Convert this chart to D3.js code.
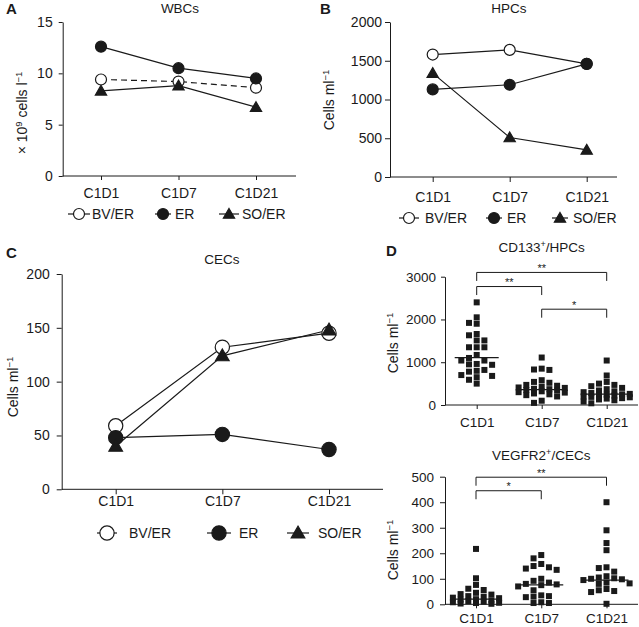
<!DOCTYPE html>
<html><head><meta charset="utf-8">
<script src="https://cdn.jsdelivr.net/npm/d3@7"></script>
<style>
body{margin:0;background:#fff}
svg text{font-family:"Liberation Sans",Arial,Helvetica,sans-serif;fill:#1a1a1a}
</style>
</head><body>
<svg id="chart" width="639" height="627"></svg>
<script>
// ---------- data ----------
const categories = ["C1D1", "C1D7", "C1D21"];
const seriesNames = ["BV/ER", "ER", "SO/ER"];

const wbcBVER = [9.4, 9.2, 8.6];
const wbcER = [12.6, 10.5, 9.5];
const wbcSOER = [8.3, 8.8, 6.7];
const wbcTicks = [0, 5, 10, 15];

const hpcBVER = [1580, 1640, 1460];
const hpcER = [1130, 1190, 1460];
const hpcSOER = [1340, 510, 350];
const hpcTicks = [0, 500, 1000, 1500, 2000];

const cecBVER = [59, 132, 145];
const cecER = [48, 51, 37];
const cecSOER = [40, 124, 148];
const cecTicks = [0, 50, 100, 150, 200];

const cd133C1D1 = [2400, 2050, 1920, 1900, 1660, 1630, 1510, 1510, 1350, 1350, 1350, 1170, 1100, 1040, 1040, 960, 950, 940, 820, 800, 780, 700, 680, 650, 590, 500];
const cd133C1D7 = [1110, 850, 830, 820, 580, 540, 520, 470, 450, 430, 410, 400, 380, 370, 350, 340, 320, 300, 290, 270, 250, 230, 200, 100, 50];
const cd133C1D21 = [1040, 690, 540, 500, 470, 440, 400, 370, 340, 320, 300, 280, 260, 250, 240, 230, 220, 200, 190, 180, 160, 150, 130, 110, 80, 40];
const cd133Medians = [1110, 360, 255];
const cd133Ticks = [0, 1000, 2000, 3000];
const cd133Brackets = [[0, 2, "**", 3100], [0, 1, "**", 2770], [1, 2, "*", 2240]];

const vegfrC1D1 = [217, 102, 76, 61, 56, 45, 40, 38, 32, 30, 26, 24, 20, 18, 15, 12, 10, 8, 6, 5, 3, 2];
const vegfrC1D7 = [193, 180, 158, 150, 145, 140, 135, 100, 92, 85, 80, 78, 75, 70, 55, 35, 32, 30, 28, 8, 5, 5];
const vegfrC1D21 = [400, 290, 240, 212, 145, 142, 128, 110, 105, 102, 100, 98, 95, 85, 82, 80, 60, 55, 52, 48, 2];
const vegfrMedians = [20, 76, 95];
const vegfrTicks = [0, 100, 200, 300, 400, 500];
const vegfrBrackets = [[0, 2, "**", 498], [0, 1, "*", 445]];

// ---------- drawing ----------
const svg = d3.select("#chart");
const INK = "#1a1a1a";
const fmt = d3.format("d");

function yLabel(g, x, y, parts, fs) {
  const t = g.append("text").attr("transform", `translate(${x},${y}) rotate(-90)`)
    .attr("text-anchor", "middle").style("font-size", fs + "px");
  let shifted = 0;
  parts.forEach(p => {
    const ts = t.append("tspan").text(p[0]);
    if (p[1]) { ts.attr("dy", -5 - shifted).style("font-size", (fs * 0.68) + "px"); shifted = -5; }
    else if (shifted) { ts.attr("dy", 5); shifted = 0; }
  });
}

function symbolPath(type, size) {
  return d3.symbol().type(type === "tri" ? d3.symbolTriangle : d3.symbolCircle).size(size)();
}

function linePanel(p) {
  const g = svg.append("g");
  const x = d3.scalePoint().domain(categories).range([p.cat0, p.cat1]);
  const y = d3.scaleLinear().domain([0, p.yMax]).range([p.y0, p.yTop]);

  const ya = g.append("g").attr("transform", `translate(${p.x0},0)`)
    .call(d3.axisLeft(y).tickValues(p.ticks).tickFormat(fmt).tickSize(p.tick).tickSizeOuter(0).tickPadding(p.ypad));
  const xa = g.append("g").attr("transform", `translate(0,${p.y0})`)
    .call(d3.axisBottom(x).tickSize(p.tick).tickPadding(p.xpad));
  xa.select(".domain").remove();
  g.append("line").attr("x1", p.x0).attr("x2", p.x1).attr("y1", p.y0).attr("y2", p.y0)
    .attr("stroke", INK).attr("stroke-width", 1);
  [ya, xa].forEach(a => {
    a.selectAll("text").style("font-size", p.fs + "px").attr("fill", INK);
    a.selectAll("line,path").attr("stroke", INK);
  });

  const line = d3.line().x((d, i) => x(categories[i])).y(d => y(d));
  p.series.forEach(s => {
    g.append("path").attr("d", line(s.values)).attr("fill", "none")
      .attr("stroke", INK).attr("stroke-width", 1.2)
      .attr("stroke-dasharray", s.dash ? "6,4" : null);
  });
  p.series.forEach(s => {
    s.values.forEach((v, i) => {
      g.append("path").attr("d", symbolPath(s.sym, s.sym === "tri" ? p.triSize : p.circSize))
        .attr("transform", `translate(${x(categories[i])},${y(v) + (s.sym === "tri" ? 1 : 0)})`)
        .attr("fill", s.fill).attr("stroke", INK).attr("stroke-width", 1.2);
    });
  });

  g.append("text").attr("x", p.titleX).attr("y", p.titleY).attr("text-anchor", "middle")
    .style("font-size", "13.5px").text(p.title);
  g.append("text").attr("x", p.letterX).attr("y", p.letterY).style("font-size", "15px")
    .style("font-weight", "bold").text(p.letter);
  yLabel(g, p.ylx, p.yly, p.ylabel, 14);

  p.series.forEach((s, i) => {
    const lx = p.legX[i], ly = p.legY, h = p.legHalf[i];
    g.append("line").attr("x1", lx - h).attr("x2", lx + h).attr("y1", ly).attr("y2", ly)
      .attr("stroke", INK).attr("stroke-width", 1.2);
    g.append("path").attr("d", symbolPath(s.sym, s.sym === "tri" ? p.triSize : p.circSize))
      .attr("transform", `translate(${lx},${ly + (s.sym === "tri" ? 1 : 0)})`)
      .attr("fill", s.fill).attr("stroke", INK).attr("stroke-width", 1.2);
    g.append("text").attr("x", p.legTextX[i]).attr("y", ly + 5).style("font-size", "14px").text(seriesNames[i]);
  });
}

linePanel({
  title: "WBCs", titleX: 180, titleY: 13, letter: "A", letterX: 6, letterY: 14,
  x0: 62.7, x1: 296, cat0: 101, cat1: 256, y0: 176, yTop: 22, yMax: 15, ticks: wbcTicks,
  tick: 4, ypad: 6, xpad: 8, fs: 14,
  ylx: 27, yly: 113, ylabel: [["× 10"], ["9", true], [" cells l"], ["−1", true]],
  circSize: 95, triSize: 55,
  series: [
    { values: wbcBVER, fill: "#fff", sym: "circle", dash: true },
    { values: wbcER, fill: INK, sym: "circle" },
    { values: wbcSOER, fill: INK, sym: "tri" }
  ],
  legY: 214, legX: [79, 163, 229], legTextX: [92, 175, 242], legHalf: [11, 8, 10]
});

linePanel({
  title: "HPCs", titleX: 509, titleY: 13, letter: "B", letterX: 320, letterY: 14,
  x0: 390, x1: 617, cat0: 432.7, cat1: 586.7, y0: 177, yTop: 22, yMax: 2000, ticks: hpcTicks,
  tick: 5, ypad: 3, xpad: 10, fs: 14,
  ylx: 334, yly: 100, ylabel: [["Cells ml"], ["−1", true]],
  circSize: 95, triSize: 55,
  series: [
    { values: hpcBVER, fill: "#fff", sym: "circle" },
    { values: hpcER, fill: INK, sym: "circle" },
    { values: hpcSOER, fill: INK, sym: "tri" }
  ],
  legY: 218, legX: [409, 494, 560], legTextX: [425, 507, 573], legHalf: [10, 8, 8]
});

linePanel({
  title: "CECs", titleX: 222, titleY: 264, letter: "C", letterX: 6, letterY: 258,
  x0: 61.7, x1: 383, cat0: 115.7, cat1: 329, y0: 489.3, yTop: 274, yMax: 200, ticks: cecTicks,
  tick: 5, ypad: 7, xpad: 2, fs: 14,
  ylx: 18, yly: 387, ylabel: [["Cells  ml"], ["−1", true]],
  circSize: 160, triSize: 80,
  series: [
    { values: cecBVER, fill: "#fff", sym: "circle" },
    { values: cecER, fill: INK, sym: "circle" },
    { values: cecSOER, fill: INK, sym: "tri" }
  ],
  legY: 533, legX: [107, 219, 298], legTextX: [129, 239, 318], legHalf: [10, 12, 11]
});

// ---------- scatter panels (D) ----------
function scatterPanel(p) {
  const g = svg.append("g");
  const x = d3.scalePoint().domain(categories).range([p.cat0, p.cat1]);
  const y = d3.scaleLinear().domain([0, p.yMax]).range([p.y0, p.yTop]);
  const ya = g.append("g").attr("transform", `translate(${p.x0},0)`)
    .call(d3.axisLeft(y).tickValues(p.ticks).tickFormat(fmt).tickSize(p.tick).tickSizeOuter(0).tickPadding(p.ypad));
  const xa = g.append("g").attr("transform", `translate(0,${p.y0})`)
    .call(d3.axisBottom(x).tickSize(4).tickPadding(p.xpad));
  xa.select(".domain").remove();
  g.append("line").attr("x1", p.x0).attr("x2", p.x1).attr("y1", p.y0).attr("y2", p.y0)
    .attr("stroke", INK).attr("stroke-width", 1);
  [ya, xa].forEach(a => {
    a.selectAll("text").style("font-size", "13.5px").attr("fill", INK);
    a.selectAll("line,path").attr("stroke", INK);
  });

  const sq = 6, step = 7.7, thr = 6.3;
  const order = [0, -1, 1, -2, 2, -3, 3];
  p.groups.forEach((vals, gi) => {
    const cx = x(categories[gi]);
    const placed = [];
    const sorted = vals.slice().sort((a, b) => b - a);
    sorted.forEach(v => {
      const py = y(v);
      let chosen = null, best = null, bestD = -1;
      for (const off of order) {
        const ds = placed.filter(q => q.off === off).map(q => Math.abs(q.py - py));
        const minD = ds.length ? d3.min(ds) : Infinity;
        if (minD >= thr) { chosen = off; break; }
        if (minD > bestD) { bestD = minD; best = off; }
      }
      placed.push({ off: chosen !== null ? chosen : best, py });
    });
    placed.forEach(q => {
      g.append("rect").attr("x", cx + q.off * step - sq / 2).attr("y", q.py - sq / 2)
        .attr("width", sq).attr("height", sq).attr("fill", INK);
    });
    g.append("line").attr("x1", cx - 22).attr("x2", cx + 22)
      .attr("y1", y(p.medians[gi])).attr("y2", y(p.medians[gi]))
      .attr("stroke", INK).attr("stroke-width", 1.2);
  });

  p.brackets.forEach(b => {
    const x1 = x(categories[b[0]]), x2 = x(categories[b[1]]), by = y(b[3]);
    g.append("path").attr("d", `M${x1},${by + 8.5}V${by}H${x2}V${by + 8.5}`)
      .attr("fill", "none").attr("stroke", INK).attr("stroke-width", 1);
    g.append("text").attr("x", (x1 + x2) / 2).attr("y", by - 0.5).attr("text-anchor", "middle")
      .style("font-size", "11px").text(b[2]);
  });

  const tt = g.append("text").attr("x", (p.cat0 + p.cat1) / 2).attr("y", p.titleY)
    .attr("text-anchor", "middle").style("font-size", "13.5px");
  p.title.forEach(t => {
    const ts = tt.append("tspan").text(t[0]);
    if (t[1]) ts.attr("dy", -5).style("font-size", "9px");
    else if (t[2]) ts.attr("dy", 5);
  });
  if (p.letter) g.append("text").attr("x", p.letterX).attr("y", p.letterY).style("font-size", "15px")
    .style("font-weight", "bold").text(p.letter);
  yLabel(g, p.ylx, p.yly, [["Cells ml"], ["−1", true]], 14);
}

scatterPanel({
  title: [["CD133"], ["+", true], ["/HPCs", false, true]], titleY: 252, letter: "D", letterX: 386, letterY: 256,
  x0: 445, x1: 638, cat0: 476.7, cat1: 606.7, y0: 405, yTop: 276.7, yMax: 3000, ticks: cd133Ticks,
  tick: 4, ypad: 5, xpad: 8,
  groups: [cd133C1D1, cd133C1D7, cd133C1D21], medians: cd133Medians, brackets: cd133Brackets,
  ylx: 398, yly: 343
});

scatterPanel({
  title: [["VEGFR2"], ["+", true], ["/CECs", false, true]], titleY: 460,
  x0: 445, x1: 638, cat0: 476, cat1: 606.5, y0: 604.3, yTop: 476.7, yMax: 500, ticks: vegfrTicks,
  tick: 5, ypad: 6, xpad: 5,
  groups: [vegfrC1D1, vegfrC1D7, vegfrC1D21], medians: vegfrMedians, brackets: vegfrBrackets,
  ylx: 398, yly: 550
});
</script>
</body></html>
